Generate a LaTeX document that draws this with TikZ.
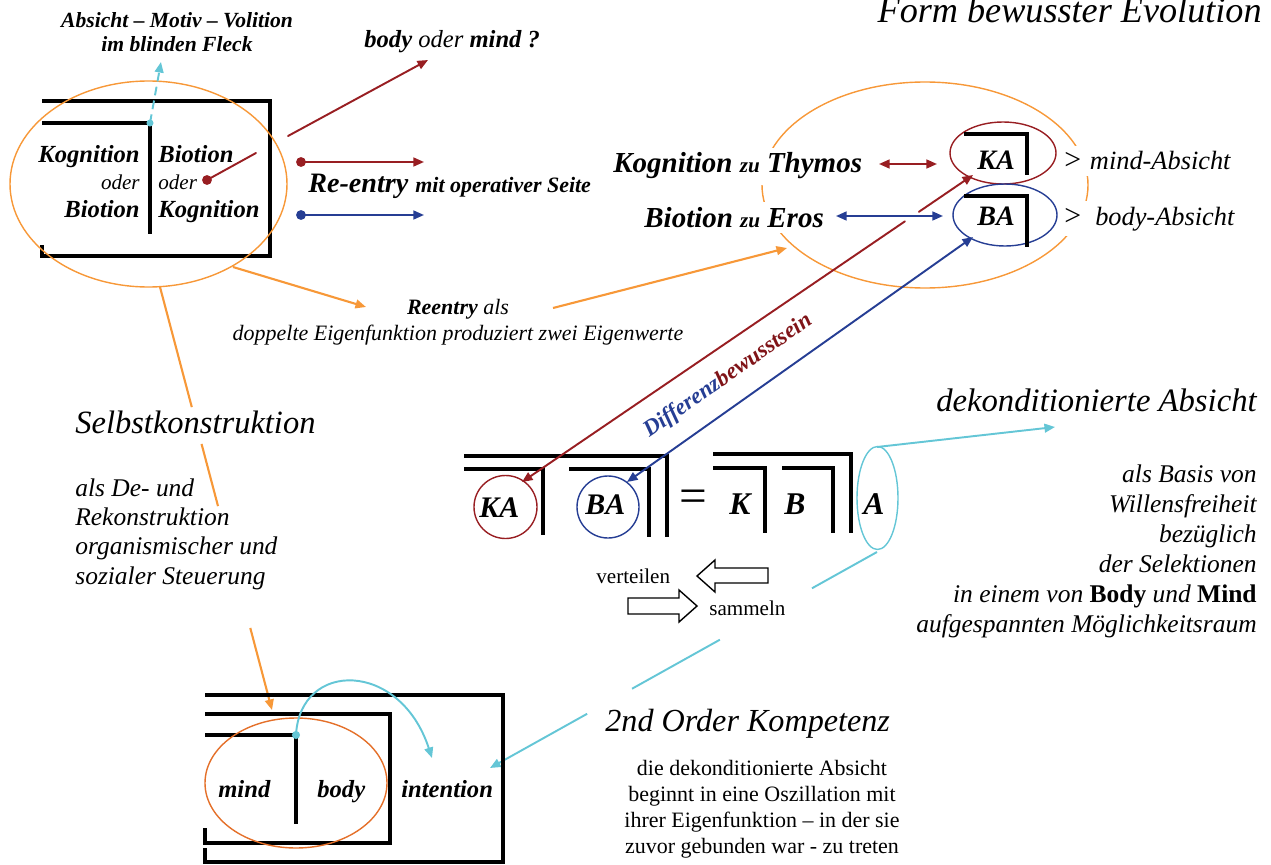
\documentclass[tikz,border=0pt]{standalone}
\usepackage{fontspec}
\setmainfont{Liberation Serif}
\usetikzlibrary{calc,arrows.meta}

\definecolor{dunkelrot}{RGB}{152,30,34}
\definecolor{tiefrot}{RGB}{128,20,24}
\definecolor{blau}{RGB}{38,62,148}
\definecolor{hellorange}{RGB}{247,152,56}
\definecolor{dunkelorange}{RGB}{228,112,42}
\definecolor{tuerkis}{RGB}{100,198,214}

\begin{document}
\begin{tikzpicture}[x=0.02cm, y=-0.02cm, line join=miter,
    every node/.style={inner sep=0pt},
    klammer/.style={line width=2.5pt},
    pfeil/.style={-{Triangle[length=6pt,width=5pt]}},
    doppelpfeil/.style={{Triangle[length=6pt,width=5pt]}-{Triangle[length=6pt,width=5pt]}},
    rotlinie/.style={draw=dunkelrot, line width=1.1pt, line cap=round},
    blaulinie/.style={draw=blau, line width=1.1pt, line cap=round},
    orangelinie/.style={draw=hellorange, line width=1.2pt},
    tuerkislinie/.style={draw=tuerkis, line width=1.1pt},
    weiss/.style={fill=white, inner sep=3pt},
    fbi/.style={font=\fontsize{#1}{#1}\selectfont\bfseries\itshape},
    fi/.style={font=\fontsize{#1}{#1}\selectfont\itshape},
    fr/.style={font=\fontsize{#1}{#1}\selectfont}]

    \useasboundingbox (0,0) rectangle (1271,865);

    % Endpunkte der Verbindungen
    \coordinate (fleckPkt) at (150,123);
    \coordinate (fleckTip) at (161,62);
    \coordinate (boxAus) at (288,136);
    \coordinate (frageTip) at (428,60);
    \coordinate (rotPkt) at (207,180);
    \coordinate (rotEnde) at (256,153);
    \coordinate (reRotS) at (301,162);
    \coordinate (reRotE) at (424,162);
    \coordinate (reBlauS) at (301,215);
    \coordinate (reBlauE) at (424,215);
    \coordinate (ellAus) at (233,267);
    \coordinate (reTip) at (366,307);
    \coordinate (reAus) at (553,308);
    \coordinate (evoTip) at (787,248);
    \coordinate (thyA) at (879,164);
    \coordinate (thyB) at (937,164);
    \coordinate (erosA) at (836,216);
    \coordinate (erosB) at (943,216);
    \coordinate (kaKreisPkt) at (522,482);
    \coordinate (kaEllPkt) at (973,175);
    \coordinate (baKreisPkt) at (627,482);
    \coordinate (baEllPkt) at (973,237);
    \coordinate (aOben) at (877,447);
    \coordinate (dekTip) at (1055,427);
    \coordinate (aUnten) at (877,552);
    \coordinate (intTip) at (490,768);
    \coordinate (selStart) at (160,287);
    \coordinate (selTip) at (272,710);
    \coordinate (mbPkt) at (296,735);
    \coordinate (mbTip) at (432,758);

    % Titel
    \node[fi=20.6, anchor=base east] (titel) at (1262,23) {Form bewusster Evolution};

    % Box oben links
    \draw[klammer] (42,101) -- (270,101) -- (270,256) -- (42,256) -- (42,245);
    \draw[klammer] (42,123) -- (150,123) -- (150,234);
    \draw[hellorange, line width=0.8pt] (148.5,184) ellipse (138.5 and 103);
    \node[fbi=14, anchor=base east] (kogL) at (140,162) {Kognition};
    \node[fi=12, anchor=base east] (oderL) at (140,189) {oder};
    \node[fbi=14, anchor=base east] (bioL) at (140,217) {Biotion};
    \node[fbi=14, anchor=base west] (bioR) at (158,162) {Biotion};
    \node[fi=12, anchor=base west] (oderR) at (158,189) {oder};
    \node[fbi=14, anchor=base west] (kogR) at (158,217) {Kognition};

    \node[align=center, anchor=base, font=\fontsize{12.3}{14.2}\selectfont\bfseries\itshape] (fleck) at (177,52) {Absicht – Motiv – Volition\\im blinden Fleck};
    \draw[tuerkislinie, pfeil, dash pattern=on 5pt off 3pt] (fleckPkt) -- (fleckTip);
    \fill[tuerkis] (fleckPkt) circle (2pt);

    \node[fi=14, anchor=base west] (bodyMind) at (364,48) {\textbf{body} oder \textbf{mind ?}};
    \draw[rotlinie, pfeil] (boxAus) -- (frageTip);
    \draw[rotlinie] (rotPkt) -- (rotEnde);
    \fill[dunkelrot] (rotPkt) circle (2.8pt);

    % Re-entry
    \draw[rotlinie, pfeil] (reRotS) -- (reRotE);
    \fill[dunkelrot] (reRotS) circle (2.8pt);
    \draw[blaulinie, pfeil] (reBlauS) -- (reBlauE);
    \fill[blau] (reBlauS) circle (2.8pt);
    \node[fbi=16, anchor=base west] (reentry) at (308,193) {Re-entry {\fontsize{12.5}{12.5}\selectfont mit operativer Seite}};

    % Gruppe rechts oben
    \draw[hellorange, line width=0.8pt] (925,185) ellipse (163 and 103);
    \node[fbi=16.5, weiss, anchor=base west, xshift=-3pt] (kogThy) at (613,173) {Kognition {\fontsize{12}{12}\selectfont zu} Thymos};
    \node[fbi=16.5, weiss, anchor=base west, xshift=-3pt] (bioEros) at (644,227) {Biotion {\fontsize{12}{12}\selectfont zu} Eros};
    \node[weiss, anchor=base west, xshift=-3pt] (mindAbs) at (1064,170) {{\fontsize{17}{17}\selectfont >}\hspace{5pt}{\fontsize{15}{15}\selectfont\itshape mind-Absicht}};
    \node[weiss, anchor=base west, xshift=-3pt] (bodyAbs) at (1064,225) {{\fontsize{17}{17}\selectfont >}\hspace{8pt}{\fontsize{15}{15}\selectfont\itshape body-Absicht}};
    \draw[dunkelrot, line width=0.8pt] (1003,153) ellipse (53 and 31);
    \draw[blau, line width=0.8pt] (1005,215) ellipse (52 and 31);
    \draw[line width=2.3pt] (964,134) -- (1027,134) -- (1027,175);
    \draw[line width=2.3pt] (964,196) -- (1027,196) -- (1027,247);
    \node[fbi=16, anchor=base west] (kaOben) at (977,170) {KA};
    \node[fbi=16, anchor=base west] (baOben) at (977,225) {BA};
    \draw[rotlinie, doppelpfeil] (thyA) -- (thyB);
    \draw[blaulinie, doppelpfeil] (erosA) -- (erosB);

    % Reentry als doppelte Eigenfunktion
    \draw[orangelinie, pfeil] (ellAus) -- (reTip);
    \draw[orangelinie, pfeil] (reAus) -- (evoTip);
    \node[align=center, anchor=base, font=\fontsize{12.5}{14.7}\selectfont\itshape] (reAls) at (458,340) {\textbf{Reentry} als\\doppelte Eigenfunktion produziert zwei Eigenwerte};

    % Selbstkonstruktion
    \node[fi=18.5, anchor=base west] (selbst) at (75,433) {Selbstkonstruktion};
    \node[align=left, anchor=base west, font=\fontsize{14.5}{16.6}\selectfont\itshape] (deRe) at (75,584) {als De- und\\Rekonstruktion\\organismischer und\\sozialer Steuerung};
    \draw[orangelinie] (selStart) -- ($(selStart)!0.284!(selTip)$);
    \draw[orangelinie] ($(selStart)!0.371!(selTip)$) -- ($(selStart)!0.518!(selTip)$);
    \draw[orangelinie, pfeil] ($(selStart)!0.806!(selTip)$) -- (selTip);

    % Formel
    \draw[klammer] (464,456) -- (667,456) -- (667,537);
    \draw[klammer] (464,469) -- (543,469) -- (543,535);
    \draw[klammer] (569,469) -- (649,469) -- (649,537);
    \draw[klammer] (713,454) -- (851,454) -- (851,533);
    \draw[klammer] (713,468) -- (765,468) -- (765,533);
    \draw[klammer] (782,468) -- (833,468) -- (833,533);
    \draw[dunkelrot, line width=0.8pt] (505.5,507) circle (31.5);
    \draw[blau, line width=0.8pt] (608,507) circle (31);
    \draw[tuerkis, line width=0.8pt] (877.5,498) ellipse (20.5 and 51.5);
    \node[fbi=17, anchor=base west] (kaF) at (479,517) {KA};
    \node[fbi=17, anchor=base west] (baF) at (585,514) {BA};
    \node[fr=28] (gleich) at (693,501) {=};
    \node[fbi=18, anchor=base west] (kF) at (729,514) {K};
    \node[fbi=18, anchor=base west] (bF) at (784,514) {B};
    \node[fbi=18, anchor=base west] (aF) at (863,514) {A};

    % Differenzbewusstsein
    \draw[rotlinie, {Triangle[length=6pt,width=5pt]}-] (kaKreisPkt) -- ($(kaKreisPkt)!0.849!(kaEllPkt)$);
    \draw[rotlinie, pfeil] ($(kaKreisPkt)!0.88!(kaEllPkt)$) -- (kaEllPkt);
    \draw[blaulinie, doppelpfeil] (baKreisPkt) -- (baEllPkt);
    \node[fbi=13, rotate=35] (differenz) at (728,376) {\color{blau}Differenz\color{tiefrot}bewusstsein};

    % verteilen / sammeln
    \node[fr=12, anchor=base west] (verteilen) at (596,583) {verteilen};
    \node[fr=12, anchor=base west] (sammeln) at (709,615) {sammeln};
    \draw[line width=0.8pt] (768,568) -- (715,568) -- (715,560) -- (697,576) -- (715,592) -- (715,583) -- (768,583) -- cycle;
    \draw[line width=0.8pt] (628,598) -- (679,598) -- (679,590) -- (697,606) -- (679,622) -- (679,614) -- (628,614) -- cycle;

    % dekonditionierte Absicht
    \draw[tuerkislinie, pfeil] (aOben) -- (dekTip);
    \node[fi=18.6, anchor=base east] (dekAbs) at (1257,411) {dekonditionierte Absicht};
    \node[align=right, anchor=base east, font=\fontsize{14.5}{17}\selectfont\itshape] (basis) at (1257,632) {als Basis von\\Willensfreiheit\\bezüglich\\der Selektionen\\in einem von {\upshape\bfseries Body} und {\upshape\bfseries Mind}\\aufgespannten Möglichkeitsraum};

    % 2nd Order Kompetenz
    \draw[tuerkislinie] (aUnten) -- ($(aUnten)!0.168!(intTip)$);
    \draw[tuerkislinie] ($(aUnten)!0.406!(intTip)$) -- ($(aUnten)!0.633!(intTip)$);
    \draw[tuerkislinie, pfeil] ($(aUnten)!0.749!(intTip)$) -- (intTip);
    \node[fi=18.3, anchor=base west] (kompetenz) at (605,731) {2nd Order Kompetenz};
    \node[align=center, anchor=base, font=\fontsize{12.5}{14.7}\selectfont] (oszill) at (762,853) {die dekonditionierte Absicht\\beginnt in eine Oszillation mit\\ihrer Eigenfunktion – in der sie\\zuvor gebunden war - zu treten};

    % Box unten
    \draw[line width=2.1pt] (205,695) -- (503,695) -- (503,862) -- (205,862) -- (205,848);
    \draw[klammer] (205,714) -- (390,714) -- (390,843) -- (205,843) -- (205,828);
    \draw[klammer] (205,735) -- (296,735) -- (296,824);
    \draw[dunkelorange, line width=0.8pt] (296,783) ellipse (91 and 65);
    \node[fbi=14, anchor=base west] (mindT) at (218,797) {mind};
    \node[fbi=14, anchor=base west] (bodyT) at (317,797) {body};
    \node[fbi=14, anchor=base west] (intT) at (401,797) {intention};
    \draw[tuerkislinie, pfeil] (mbPkt) .. controls (300,660) and (400,660) .. (mbTip);
    \fill[tuerkis] (mbPkt) circle (2.3pt);
\end{tikzpicture}
\end{document}
